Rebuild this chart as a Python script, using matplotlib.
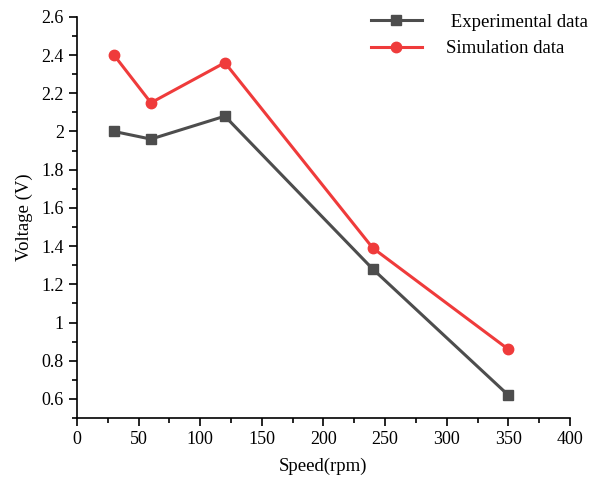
import matplotlib
matplotlib.use("Agg")
import matplotlib.pyplot as plt
from matplotlib.ticker import MultipleLocator, FuncFormatter

speed = [30, 60, 120, 240, 350]
experimental = [2.00, 1.96, 2.08, 1.28, 0.62]
simulation = [2.40, 2.15, 2.36, 1.39, 0.86]

plt.rcParams['font.family'] = ['Liberation Serif', 'DejaVu Serif']

fig = plt.figure(figsize=(5.9, 4.8), dpi=100)
ax = fig.add_axes([0.1305, 0.129, 0.8355, 0.836])

ax.plot(speed, experimental, color='#4d4d4d', lw=2.2, marker='s', ms=6.5, label=' Experimental data')
ax.plot(speed, simulation, color='#ef3b3b', lw=2.2, marker='o', ms=7.5, label='Simulation data')

ax.set_xlim(0, 400)
ax.set_ylim(0.5, 2.6)
ax.xaxis.set_major_locator(MultipleLocator(50))
ax.xaxis.set_minor_locator(MultipleLocator(25))
ax.yaxis.set_major_locator(MultipleLocator(0.2))
ax.yaxis.set_minor_locator(MultipleLocator(0.1))
ax.yaxis.set_major_formatter(FuncFormatter(lambda v, p: ('%g' % round(v, 2))))

for s in ['top', 'right']:
    ax.spines[s].set_visible(False)
for s in ['left', 'bottom']:
    ax.spines[s].set_linewidth(1.2)

ax.tick_params(which='major', direction='out', length=6, width=1.2, labelsize=13)
ax.tick_params(which='minor', direction='out', length=3.5, width=1.2)

ax.set_xlabel('Speed(rpm)', fontsize=13.5, labelpad=7)
ax.set_ylabel('Voltage (V)', fontsize=13.5, labelpad=6)

ax.legend(loc='upper right', bbox_to_anchor=(1.025, 1.007), bbox_transform=fig.transFigure,
          frameon=False, fontsize=13.5,
          handlelength=2.7, handletextpad=1.3, labelspacing=0.5)

fig.savefig('out.png', dpi=100)
